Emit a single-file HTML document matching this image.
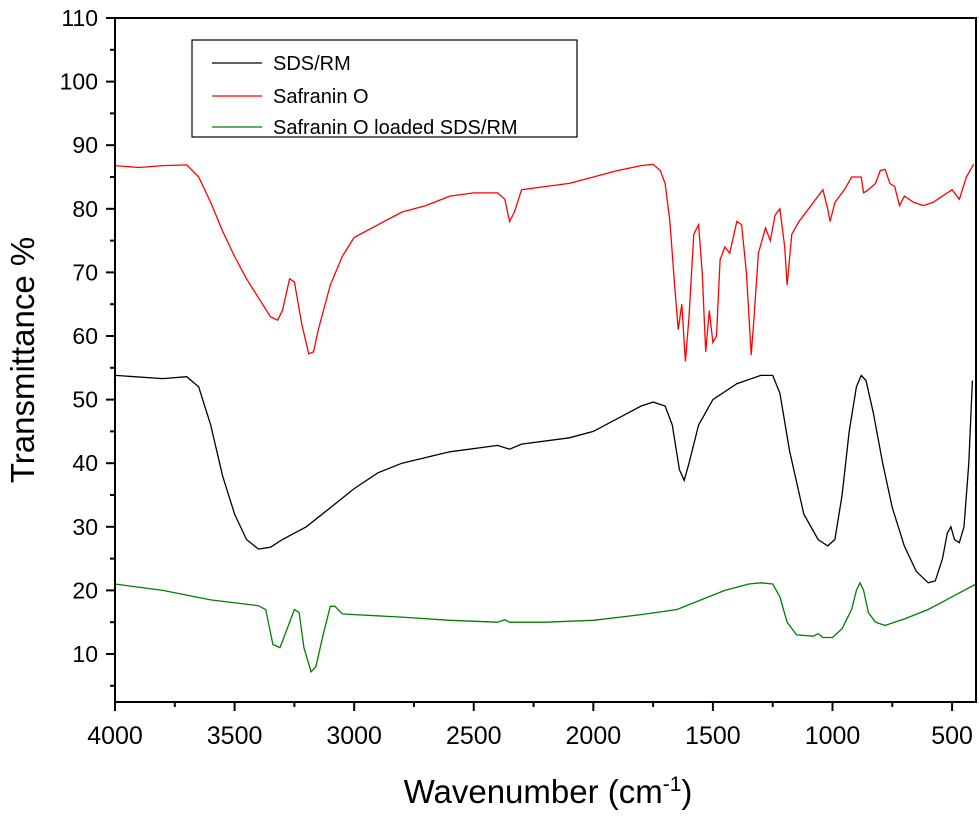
<!DOCTYPE html>
<html><head><meta charset="utf-8"><style>
body{margin:0;background:#fff;}
svg text{font-family:"Liberation Sans",Arial,sans-serif;}
</style></head><body>
<svg id="chart" width="980" height="817" xmlns="http://www.w3.org/2000/svg">
<g id="plot"></g>
</svg>
<script>
const xTicks=[4000,3500,3000,2500,2000,1500,1000,500];
const yTicks=[10,20,30,40,50,60,70,80,90,100,110];
const sdsWN=[4000,3800,3700,3650,3600,3550,3500,3450,3400,3350,3300,3200,3100,3000,2900,2800,2600,2400,2350,2300,2100,2000,1900,1800,1750,1700,1670,1640,1620,1600,1560,1500,1400,1300,1250,1220,1180,1120,1060,1020,990,960,930,900,880,860,830,790,750,700,650,600,570,540,520,505,490,470,450,430,415];
const sdsT=[53.8,53.3,53.6,52,46,38,32,28,26.5,26.8,28,30,33,36,38.5,40,41.8,42.8,42.2,43,44,45,47,49,49.6,49,46,39,37.3,40,46,50,52.5,53.8,53.8,51,42,32,28,27,28,35,45,52,53.8,53,48,40,33,27,23,21.2,21.5,25,29,30,28,27.5,30,40,53];
const safWN=[4000,3900,3800,3700,3650,3600,3550,3500,3450,3400,3350,3320,3300,3270,3250,3220,3190,3170,3150,3100,3050,3000,2900,2800,2700,2600,2500,2400,2370,2350,2330,2300,2200,2100,2000,1900,1800,1750,1720,1700,1680,1660,1645,1630,1615,1600,1580,1560,1545,1530,1515,1500,1485,1470,1450,1430,1400,1380,1360,1340,1330,1310,1280,1260,1240,1220,1200,1190,1170,1140,1100,1060,1040,1020,1010,990,950,920,880,870,850,820,800,780,760,740,720,700,660,620,580,540,500,470,440,410];
const safT=[86.8,86.5,86.8,86.9,85,81,76.5,72.5,69,66,63,62.5,64,69,68.5,62,57.2,57.5,61,68,72.5,75.5,77.5,79.5,80.5,82,82.5,82.5,81.5,78,79.5,83,83.5,84,85,86,86.8,87,86,84,78,68,61,65,56,63,76,77.5,70,57.5,64,59,60,72,74,73,78,77.5,70,57,62,73,77,75,79,80,74,68,76,78,80,82,83,80,78,81,83,85,85,82.5,83,84,86,86.2,84,83.5,80.5,82,81,80.5,81,82,83,81.5,85,87];
const ldWN=[4000,3800,3600,3400,3370,3340,3310,3280,3250,3230,3210,3180,3160,3130,3100,3080,3050,3000,2800,2600,2400,2370,2350,2200,2000,1800,1650,1550,1450,1350,1300,1250,1220,1190,1150,1080,1060,1040,1000,960,920,900,885,870,850,820,780,700,600,500,400];
const ldT=[21,20,18.5,17.6,17,11.5,11,14,17,16.5,11,7.2,8,13,17.5,17.5,16.3,16.2,15.8,15.3,15,15.4,15,15,15.3,16.2,17,18.5,20,21,21.2,21,19,15,13,12.8,13.2,12.6,12.6,14,17,20,21.2,20,16.5,15,14.5,15.5,17,19,21];
const L=115,R=976,T=18,B=702;
const X=w=>L+(4000-w)*(R-L)/3600;
const Y=v=>654-(v-10)*6.36;
const NS="http://www.w3.org/2000/svg";
const g=document.getElementById('plot');
function mk(t,a){const e=document.createElementNS(NS,t);for(const k in a)e.setAttribute(k,a[k]);g.appendChild(e);return e;}
function line(pts,color,name){const e=mk('polyline',{points:pts,fill:'none',stroke:color,'stroke-width':1.3});

}
function series(wn,t){return wn.map((w,i)=>X(w).toFixed(1)+','+Y(t[i]).toFixed(1)).join(' ');}
line(series(sdsWN,sdsT),'#000','series-sds-rm');
line(series(safWN,safT),'#ff0000','series-safranin-o');
line(series(ldWN,ldT),'#007f00','series-safranin-o-loaded');
const fr=mk('rect',{x:L,y:T,width:R-L,height:B-T,fill:'none',stroke:'#000','stroke-width':2});


xTicks.forEach(w=>{mk('line',{x1:X(w),x2:X(w),y1:B,y2:B+9,stroke:'#000','stroke-width':2});
mk('line',{x1:X(w-250),x2:X(w-250),y1:B,y2:B+5,stroke:'#000','stroke-width':2});
const t=mk('text',{x:X(w),y:B+42,'text-anchor':'middle','font-size':25});t.textContent=w;

});
yTicks.forEach(v=>{mk('line',{x1:L-9,x2:L,y1:Y(v),y2:Y(v),stroke:'#000','stroke-width':2});
mk('line',{x1:L-5,x2:L,y1:Y(v-5),y2:Y(v-5),stroke:'#000','stroke-width':2});
const t=mk('text',{x:L-17,y:Y(v)+8,'text-anchor':'end','font-size':23});t.textContent=v;

});
</script>
<svg width="980" height="817" style="position:absolute;left:0;top:0" xmlns="http://www.w3.org/2000/svg">
<text x="548" y="803" text-anchor="middle" font-size="33">Wavenumber (cm<tspan dy="-12" font-size="21">-1</tspan><tspan dy="12">)</tspan></text>
<text transform="translate(34,360) rotate(-90)" text-anchor="middle" font-size="33">Transmittance %</text>
<g>
<rect x="192" y="40" width="385" height="97" fill="#fff" stroke="#000" stroke-width="1.2"/>
<line x1="212" x2="262" y1="63" y2="63" stroke="#000" stroke-width="1.3"/>
<text x="273" y="70" font-size="20">SDS/RM</text>
<line x1="212" x2="262" y1="96" y2="96" stroke="#f00" stroke-width="1.3"/>
<text x="273" y="103" font-size="20">Safranin O</text>
<line x1="212" x2="262" y1="127" y2="127" stroke="#007f00" stroke-width="1.3"/>
<text x="273" y="134" font-size="20">Safranin O loaded SDS/RM</text>
</g>
</svg>
</body></html>
